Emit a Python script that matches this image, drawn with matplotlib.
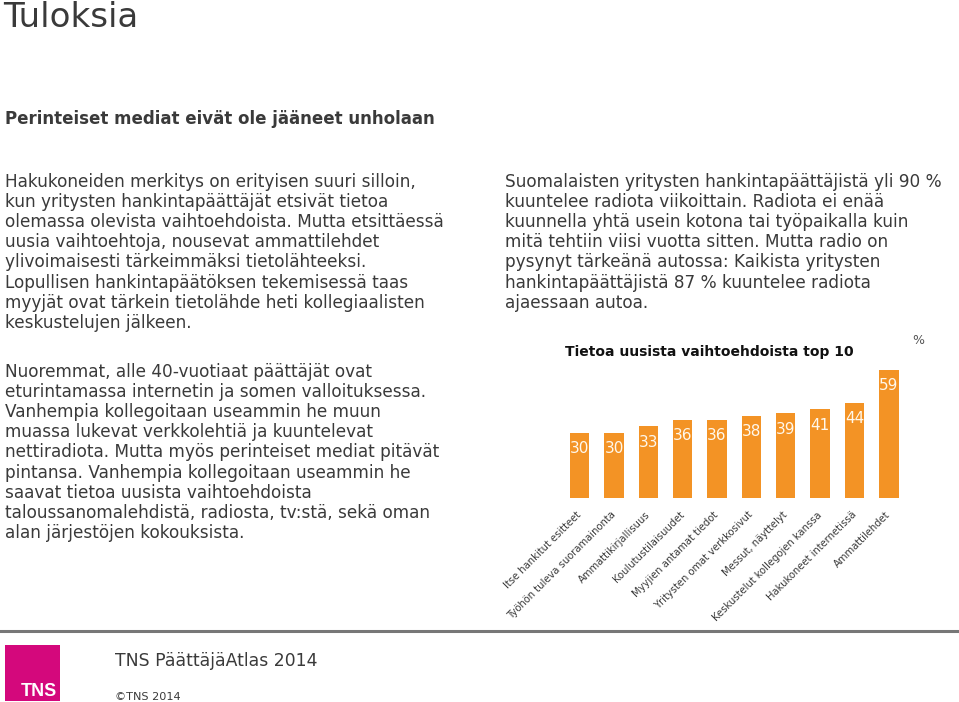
import matplotlib
matplotlib.use("Agg")
import matplotlib.pyplot as plt
from matplotlib.patches import Rectangle
from matplotlib.lines import Line2D

categories = [
    "Itse hankitut esitteet",
    "Työhön tuleva suoramainonta",
    "Ammattikirjallisuus",
    "Koulutustilaisuudet",
    "Myyjien antamat tiedot",
    "Yritysten omat verkkosivut",
    "Messut, näyttelyt",
    "Keskustelut kollegojen kanssa",
    "Hakukoneet internetissä",
    "Ammattilehdet",
]
values = [30, 30, 33, 36, 36, 38, 39, 41, 44, 59]

title = "Tuloksia"
heading = "Perinteiset mediat eivät ole jääneet unholaan"
para1 = [
    "Hakukoneiden merkitys on erityisen suuri silloin,",
    "kun yritysten hankintapäättäjät etsivät tietoa",
    "olemassa olevista vaihtoehdoista. Mutta etsittäessä",
    "uusia vaihtoehtoja, nousevat ammattilehdet",
    "ylivoimaisesti tärkeimmäksi tietolähteeksi.",
    "Lopullisen hankintapäätöksen tekemisessä taas",
    "myyjät ovat tärkein tietolähde heti kollegiaalisten",
    "keskustelujen jälkeen.",
]
para2 = [
    "Nuoremmat, alle 40-vuotiaat päättäjät ovat",
    "eturintamassa internetin ja somen valloituksessa.",
    "Vanhempia kollegoitaan useammin he muun",
    "muassa lukevat verkkolehtiä ja kuuntelevat",
    "nettiradiota. Mutta myös perinteiset mediat pitävät",
    "pintansa. Vanhempia kollegoitaan useammin he",
    "saavat tietoa uusista vaihtoehdoista",
    "taloussanomalehdistä, radiosta, tv:stä, sekä oman",
    "alan järjestöjen kokouksista.",
]
para3 = [
    "Suomalaisten yritysten hankintapäättäjistä yli 90 %",
    "kuuntelee radiota viikoittain. Radiota ei enää",
    "kuunnella yhtä usein kotona tai työpaikalla kuin",
    "mitä tehtiin viisi vuotta sitten. Mutta radio on",
    "pysynyt tärkeänä autossa: Kaikista yritysten",
    "hankintapäättäjistä 87 % kuuntelee radiota",
    "ajaessaan autoa.",
]
chart_title = "Tietoa uusista vaihtoehdoista top 10"
unit = "%"
footer = "TNS PäättäjäAtlas 2014"
copyright_text = "©TNS 2014"
logo_text = "TNS"

W, H = 959, 702
fig = plt.figure(figsize=(W / 100, H / 100), dpi=100)
fig.patch.set_facecolor("white")

TXT = "#3a3a3a"
FONT = "DejaVu Sans"
BODY = 12.2

def fx(px):
    return px / W

def fy(py):
    return 1 - py / H

fig.text(fx(3), fy(27), title, fontsize=24.5, color=TXT, family=FONT, va="baseline", ha="left")
fig.text(fx(5), fy(119), heading, fontsize=12.0, color=TXT, family=FONT, weight="bold", va="center", ha="left")

def block(lines, x, y0, step=20.1):
    for i, line in enumerate(lines):
        fig.text(fx(x), fy(y0 + i * step), line, fontsize=BODY, color=TXT, family=FONT, va="center", ha="left")

block(para1, 5, 182)
block(para2, 5, 372)
block(para3, 505, 182)

# Chart
left_px, right_px = 562.5, 905.9
bottom_px = 498
ymax = 60
top_px = bottom_px - ymax * 2.17
ax = fig.add_axes([fx(left_px), fy(bottom_px), fx(right_px - left_px), (bottom_px - top_px) / H])
x = list(range(len(values)))
bars = ax.bar(x, values, width=0.57, color="#F39325", edgecolor="none")
ax.set_xlim(-0.5, len(values) - 0.5)
ax.set_ylim(0, ymax)
for xi, v in zip(x, values):
    ax.annotate(str(v), (xi, v), xytext=(0, -11.5), textcoords="offset points",
                ha="center", va="center", color="#FFF8EC", fontsize=11, family=FONT)
ax.set_xticks(x)
ax.set_xticklabels(categories, rotation=45, ha="right", va="center", rotation_mode="anchor",
                   fontsize=7.2, color=TXT, family=FONT)
ax.tick_params(axis="x", length=0, pad=11)
ax.set_yticks([])
for s in ax.spines.values():
    s.set_visible(False)
ax.patch.set_visible(False)

fig.text(fx(565), fy(352), chart_title, fontsize=10.0, color="#111111", family=FONT, weight="bold", va="center", ha="left")
fig.text(fx(918), fy(340), unit, fontsize=9, color="#555555", family=FONT, va="center", ha="center")

# Footer rule
fig.add_artist(Line2D([0, fx(957)], [fy(631), fy(631)], color="#777777", linewidth=2.2))

# Logo
fig.add_artist(Rectangle((fx(5), fy(701)), fx(55), (701 - 645) / H, facecolor="#D4087C", edgecolor="none"))
fig.text(fx(57), fy(692), logo_text, fontsize=13, color="white", family="Liberation Sans", weight="bold", va="center", ha="right")

fig.text(fx(115), fy(661), footer, fontsize=12.4, color=TXT, family=FONT, va="center", ha="left")
fig.text(fx(115), fy(697), copyright_text, fontsize=8.1, color=TXT, family=FONT, va="center", ha="left")

fig.savefig("out.png", dpi=100, facecolor="white")
